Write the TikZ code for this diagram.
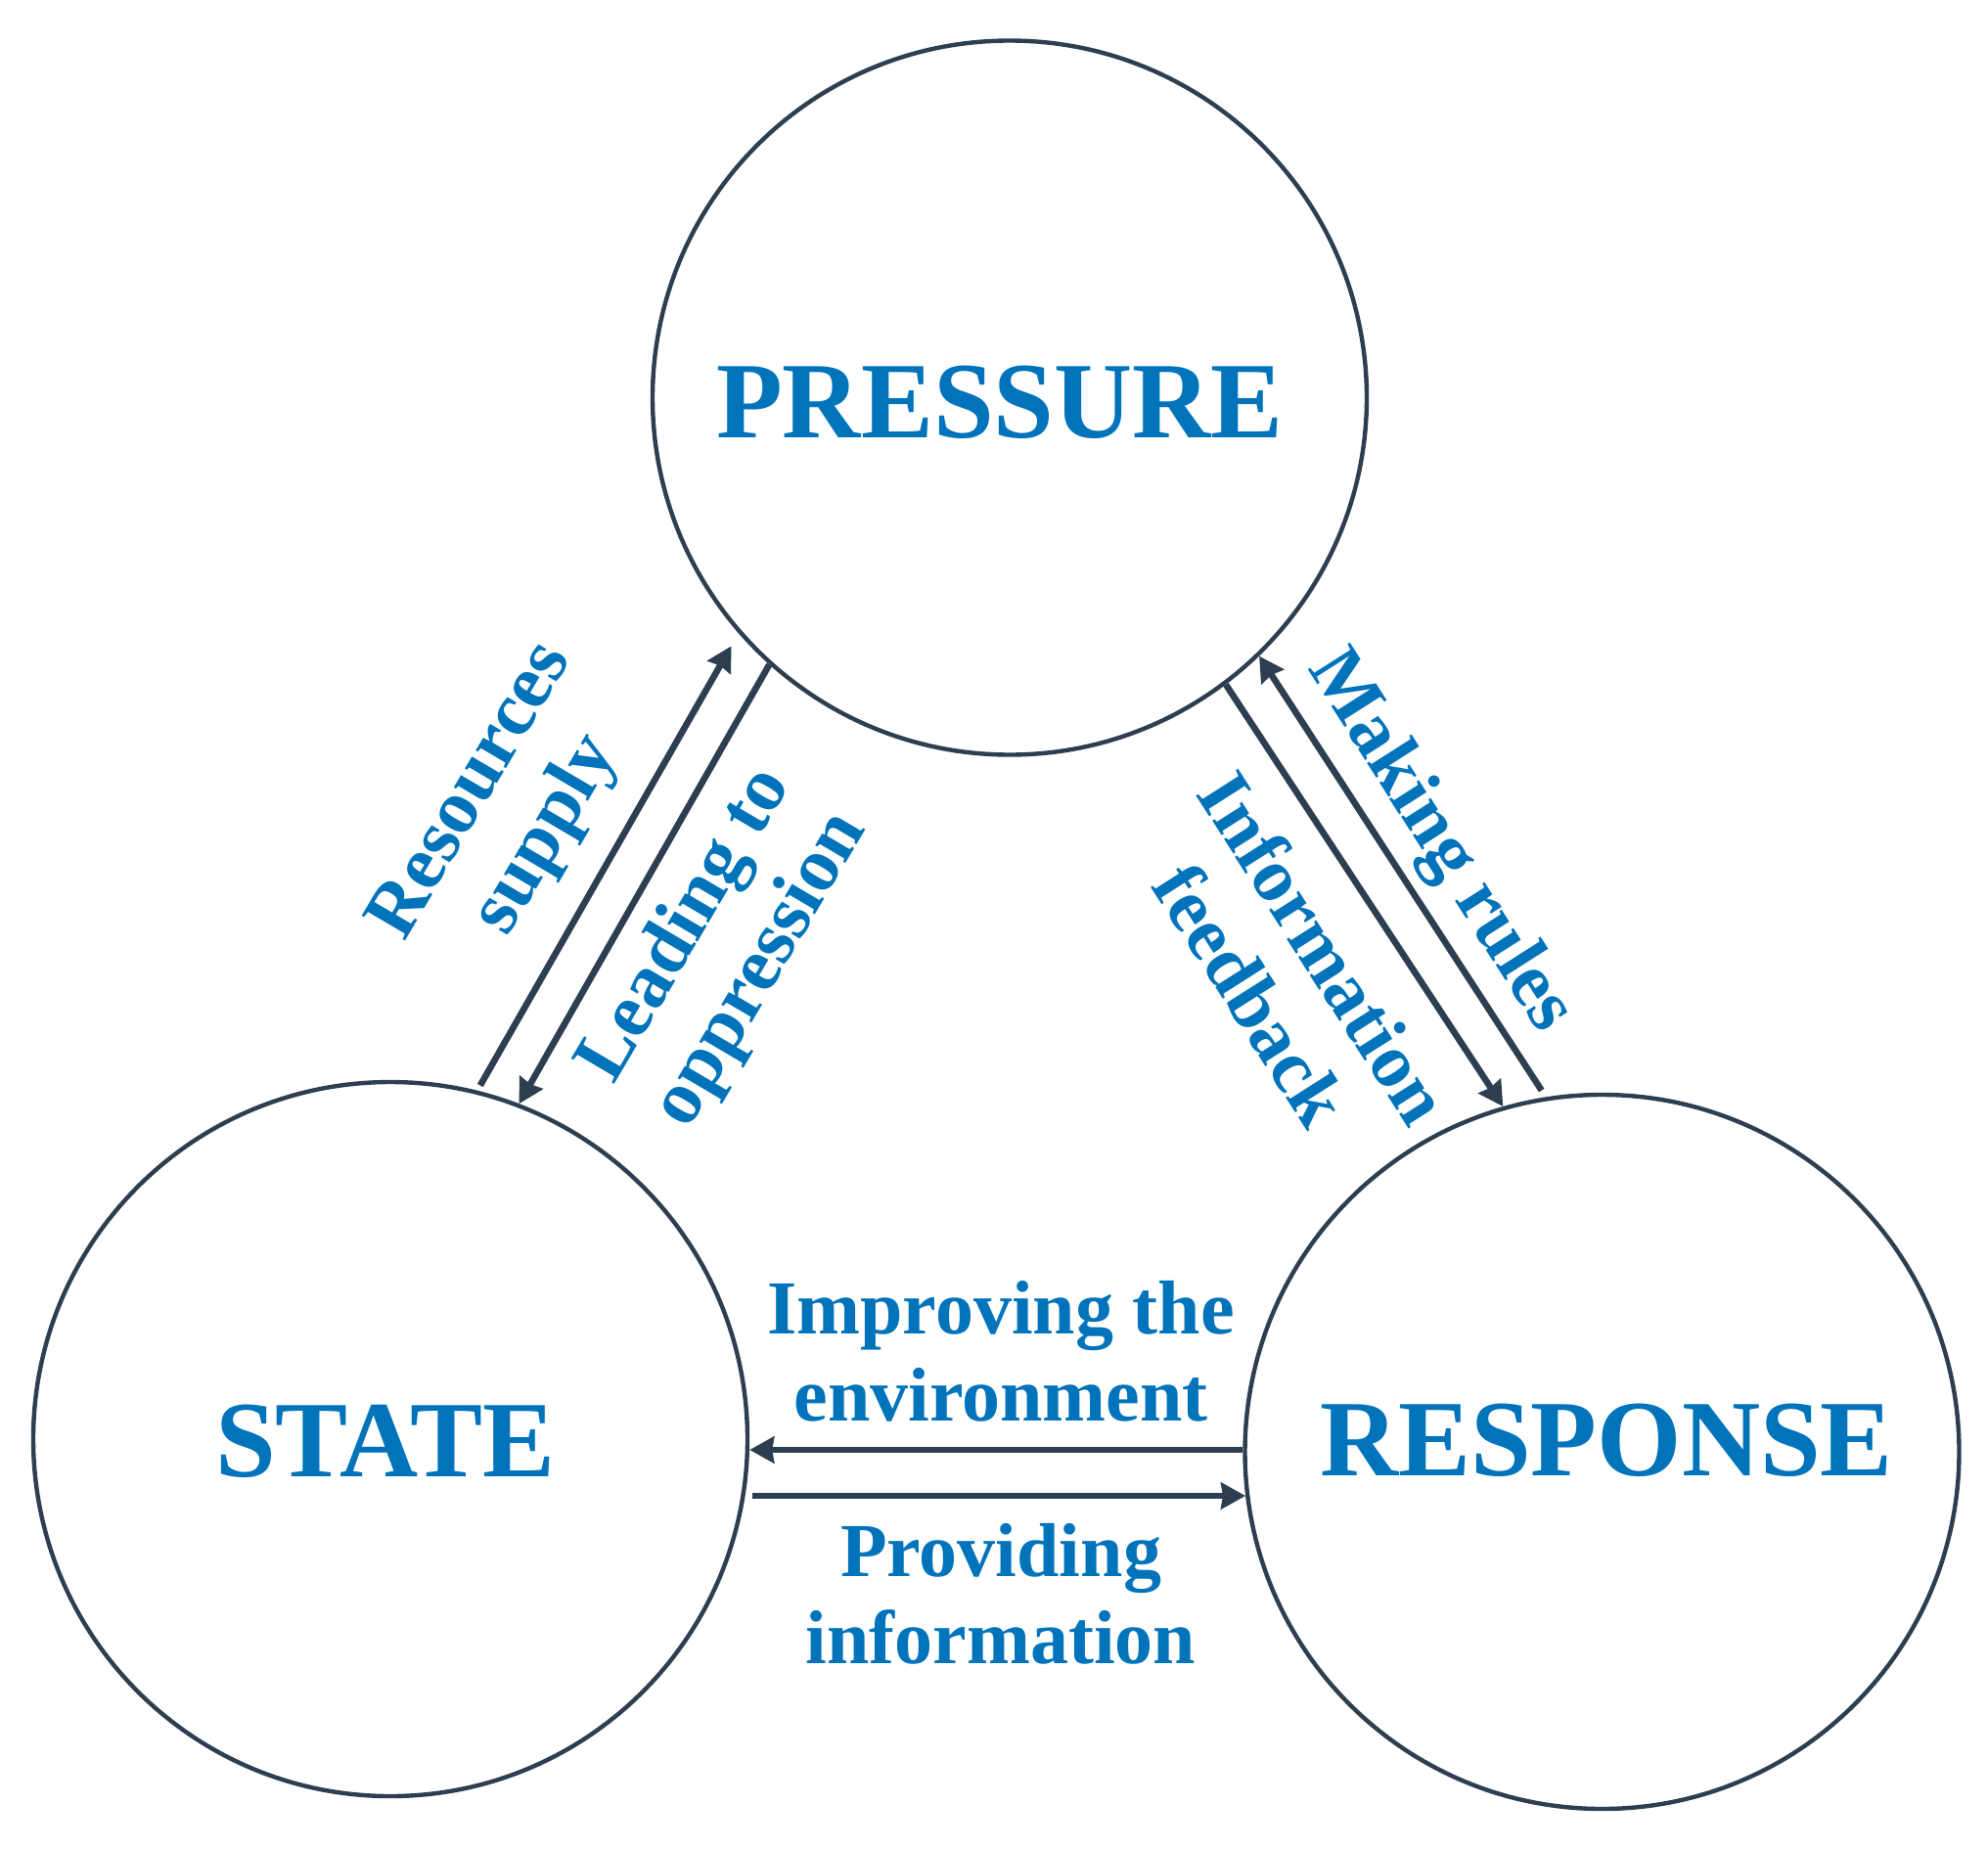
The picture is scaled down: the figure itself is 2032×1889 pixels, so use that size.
\documentclass[tikz,border=0pt]{standalone}
\usepackage{fontspec}
\setmainfont{Liberation Serif}
\usetikzlibrary{arrows.meta,calc}
\definecolor{dk}{RGB}{44,62,80}
\definecolor{bl}{RGB}{0,115,187}
\begin{document}
\begin{tikzpicture}[x=0.5pt,y=-0.5pt,
  circ/.style={circle, draw=dk, line width=2.2pt, minimum size=365pt, inner sep=0pt},
  big/.style={text=bl, font=\fontsize{55.5}{60}\selectfont\bfseries, inner sep=0pt, anchor=base},
  lbl/.style={text=bl, font=\fontsize{39}{44.5}\selectfont\bfseries, align=center, inner sep=0pt},
  arr/.style={draw=dk, line width=3.3pt, -{Stealth[length=12.5pt,width=13.5pt,inset=1pt]}}]
\useasboundingbox (0,0) rectangle (2032,1889);
\node[circ] (P) at (1032,406.5) {};
\node[circ] (S) at (399,1471) {};
\node[circ] (R) at (1637.5,1484) {};
\node[big] (Pt) at (1022,447) {PRESSURE};
\node[big] (St) at (394,1509) {STATE};
\node[big] (Rt) at (1642,1508) {RESPONSE};
\coordinate (ia) at ($(R.west)+(0,-2)$);
\coordinate (pa) at ($(S.east)+(3,58)$);
\draw[arr, shorten <=3pt, shorten >=7.5pt] (S.76.7) -- (P.221.6);
\draw[arr] (P.228.1) -- (S.69.9);
\draw[arr] (P.307.1) -- (R.106.9);
\draw[arr, shorten <=4pt] (R.99.7) -- (P.314.7);
\draw[arr] (ia) -- (ia -| S.east);
\draw[arr] (pa) -- (pa -| R.187);
\node[lbl, rotate=59.5] (l1) at (522,832) {Resources\\supply};
\node[lbl, rotate=59.5] (l2) at (740,969) {Leading to\\oppression};
\node[lbl, rotate=-57.5] (l3) at (1316.5,993) {Information\\feedback};
\node[lbl, rotate=-57.5] (l4) at (1471,861) {Making rules};
\node[lbl] (l5) at (1023,1381) {Improving the\\environment};
\node[lbl] (l6) at (1023,1629) {Providing\\information};
\end{tikzpicture}
\end{document}
